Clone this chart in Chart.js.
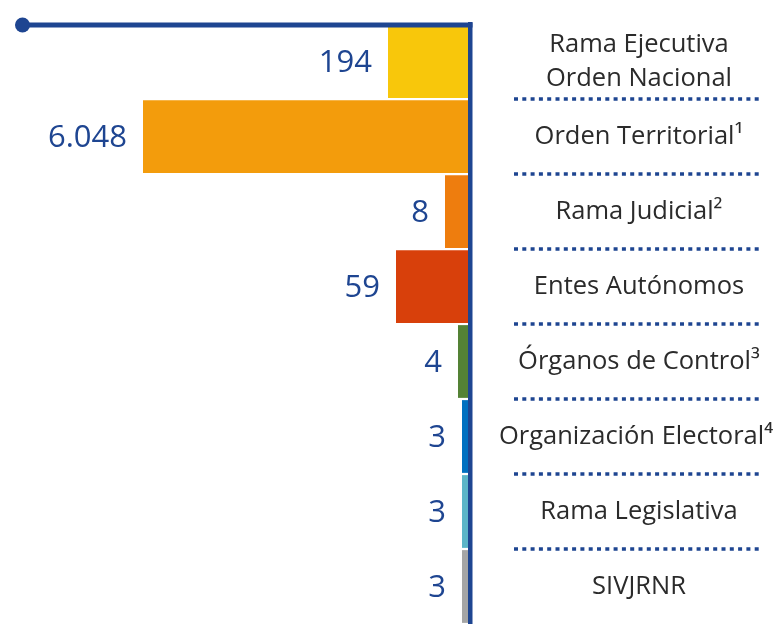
<!DOCTYPE html>
<html lang="es">
<head>
  <meta charset="UTF-8" />
  <title>Entidades por rama</title>
  <script src="https://cdn.jsdelivr.net/npm/chart.js"></script>
  <style>
    body {
      margin: 0;
      background: #fff;
      overflow: hidden;
    }
    .wrap {
      position: relative;
      width: 775px;
      height: 624px;
    }
  </style>
</head>
<body>
  <div class="wrap">
    <canvas id="ramas"></canvas>
  </div>

  <script>
    // categories (first one spans two lines)
    const categories = [
      ['Rama Ejecutiva', 'Orden Nacional'],
      'Orden Territorial¹',
      'Rama Judicial²',
      'Entes Autónomos',
      'Órganos de Control³',
      'Organización Electoral⁴',
      'Rama Legislativa',
      'SIVJRNR'
    ];
    // numbers printed next to each bar
    const values = [194, 6048, 8, 59, 4, 3, 3, 3];
    // the graphic is not drawn to scale: drawn bar lengths
    const barSize = [82, 327, 25, 74, 12, 8, 8, 8];
    const barColors = ['#F8C70B', '#F39C0C', '#EE7D0E', '#D8400B', '#548235', '#0070C0', '#5BB5C8', '#A5A5A5'];

    const navy = '#1E4591';

    function fmt(n) {
      return String(n).replace(/\B(?=(\d{3})+(?!\d))/g, '.');
    }

    // top rule with dot, dotted separators, category and value labels
    const decorations = {
      id: 'decorations',
      afterDraw(chart) {
        const ctx = chart.ctx;
        const area = chart.chartArea;
        const y = chart.scales.y;
        const meta = chart.getDatasetMeta(0);
        ctx.save();

        // top line + dot
        ctx.strokeStyle = navy;
        ctx.lineWidth = 5;
        ctx.beginPath();
        ctx.moveTo(22, 25);
        ctx.lineTo(area.right + 2.5, 25);
        ctx.stroke();
        ctx.fillStyle = navy;
        ctx.beginPath();
        ctx.arc(22.5, 25, 7.5, 0, Math.PI * 2);
        ctx.fill();

        // dotted separators between categories
        ctx.setLineDash([4, 4.3]);
        ctx.lineWidth = 3.5;
        for (let i = 0; i < categories.length - 1; i++) {
          const yy = (y.getPixelForValue(i) + y.getPixelForValue(i + 1)) / 2;
          ctx.beginPath();
          ctx.moveTo(514, yy);
          ctx.lineTo(761, yy);
          ctx.stroke();
        }
        ctx.setLineDash([]);

        // category labels
        ctx.fillStyle = '#2b2b2b';
        ctx.font = '25.5px "Open Sans"';
        ctx.textAlign = 'center';
        ctx.textBaseline = 'middle';
        categories.forEach((c, i) => {
          const cy = y.getPixelForValue(i);
          const lines = Array.isArray(c) ? c : [c];
          const lh = 34;
          lines.forEach((t, j) => {
            const ly = cy + (j - (lines.length - 1) / 2) * lh;
            ctx.fillText(t, i === 5 ? 636 : 639, ly);
          });
        });

        // value labels
        ctx.fillStyle = navy;
        ctx.font = '31px "Open Sans"';
        ctx.textAlign = 'right';
        meta.data.forEach((bar, i) => {
          ctx.fillText(fmt(values[i]), bar.x - 16, bar.y + 1.5);
        });

        ctx.restore();
      }
    };

    new Chart(document.getElementById('ramas'), {
      type: 'bar',
      data: {
        labels: categories,
        datasets: [{
          data: barSize,
          backgroundColor: barColors,
          barPercentage: 0.97,
          categoryPercentage: 1
        }]
      },
      options: {
        indexAxis: 'y',
        responsive: true,
        maintainAspectRatio: false,
        animation: false,
        layout: { padding: { top: 24, left: 0, right: 0, bottom: 0 } },
        plugins: {
          legend: { display: false },
          tooltip: { enabled: false }
        },
        scales: {
          x: {
            display: false,
            reverse: true,
            min: 0,
            max: 470
          },
          y: {
            position: 'right',
            grid: { display: false, drawTicks: false },
            ticks: { display: false },
            border: { display: true, color: navy, width: 4.5, z: 1 },
            afterFit(scale) {
              scale.width = 305;
            }
          }
        }
      },
      plugins: [decorations]
    });
  </script>
</body>
</html>
